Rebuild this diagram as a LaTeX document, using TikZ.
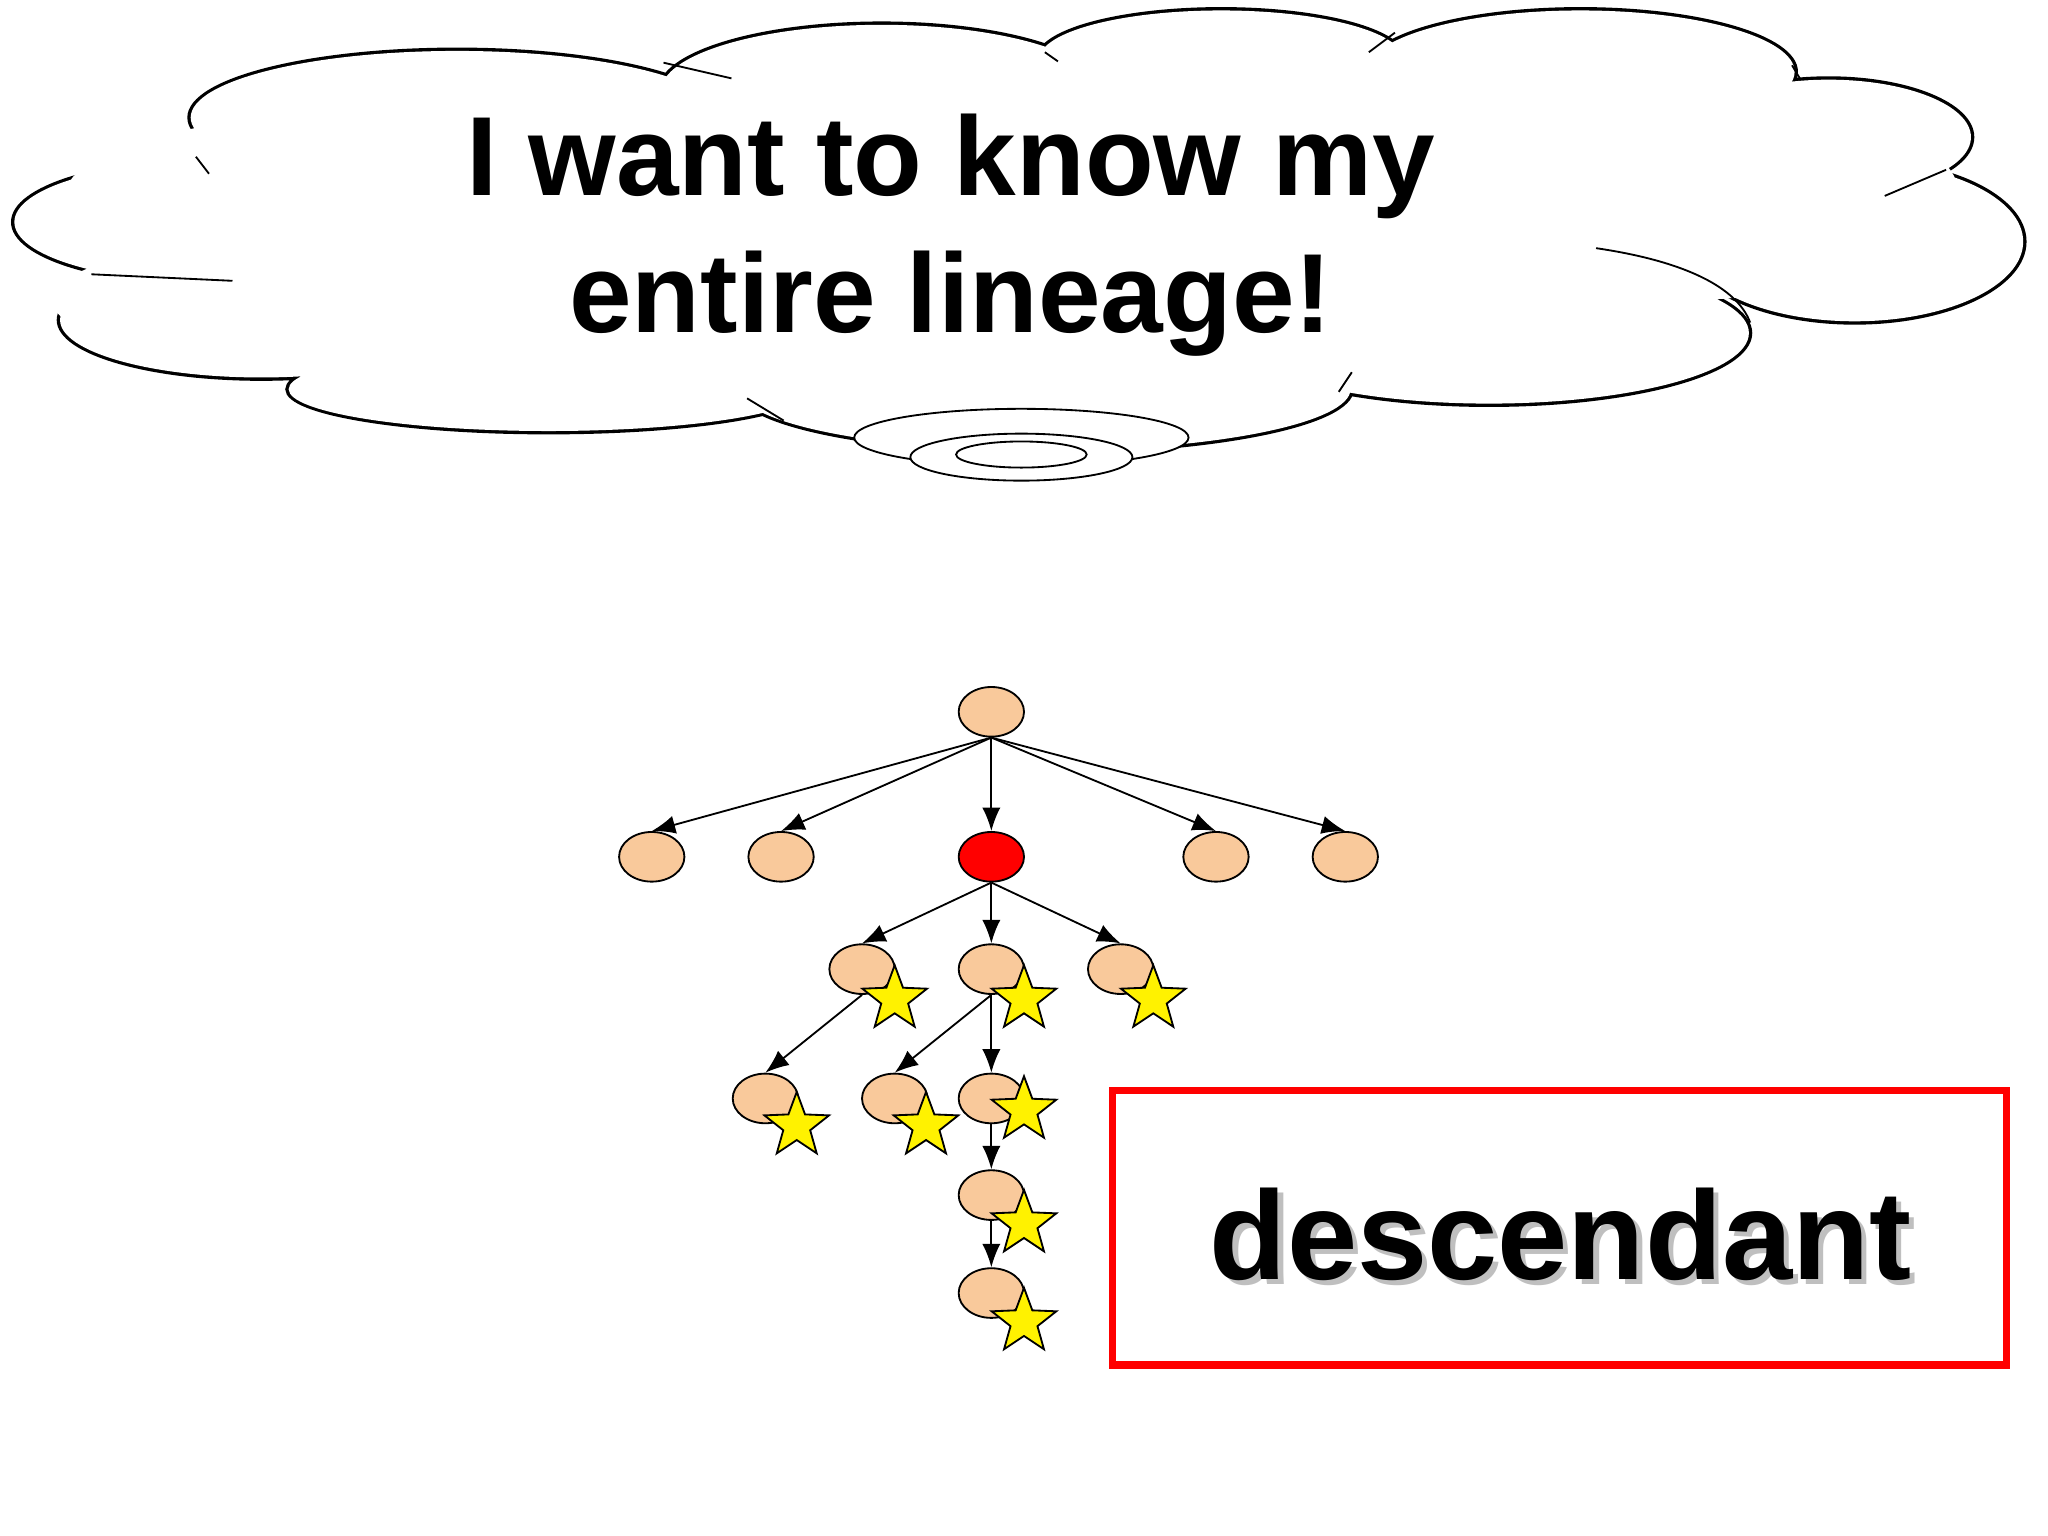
\documentclass[tikz,border=0pt]{standalone}
\usepackage{fontspec}
\setmainfont{Liberation Sans}
\usetikzlibrary{shapes.geometric,arrows.meta}
\definecolor{peach}{HTML}{F9C99B}
\begin{document}
\begin{tikzpicture}[x=0.01cm,y=-0.01cm,
  nd/.style={ellipse,draw,fill=peach,minimum width=0.5cm,minimum height=0.38cm,inner sep=0pt},
  st/.style={star,star points=5,star point ratio=2.4,draw,fill=yellow,minimum size=0.52cm,inner sep=0pt},
  ed/.style={-{Latex[length=1.8mm,width=1.4mm]}}]
\useasboundingbox (0,0) rectangle (1568,1176);
% cloud
\draw[line width=0.9pt] (160,170) ellipse [x radius=150,y radius=47]
 (200,245) ellipse [x radius=155,y radius=45]
 (350,90) ellipse [x radius=205,y radius=52]
 (675,70) ellipse [x radius=170,y radius=52]
 (935,45) ellipse [x radius=140,y radius=38]
 (1210,55) ellipse [x radius=165,y radius=48]
 (1400,105) ellipse [x radius=110,y radius=45]
 (1420,185) ellipse [x radius=130,y radius=62]
 (1140,255) ellipse [x radius=200,y radius=55]
 (800,298) ellipse [x radius=235,y radius=48]
 (420,298) ellipse [x radius=200,y radius=33];
\fill[white] (160,170) ellipse [x radius=149,y radius=46]
 (200,245) ellipse [x radius=154,y radius=44]
 (350,90) ellipse [x radius=204,y radius=51]
 (675,70) ellipse [x radius=169,y radius=51]
 (935,45) ellipse [x radius=139,y radius=37]
 (1210,55) ellipse [x radius=164,y radius=47]
 (1400,105) ellipse [x radius=109,y radius=44]
 (1420,185) ellipse [x radius=129,y radius=61]
 (1140,255) ellipse [x radius=199,y radius=54]
 (800,298) ellipse [x radius=234,y radius=47]
 (420,298) ellipse [x radius=199,y radius=32]
 (760,180) ellipse [x radius=560,y radius=115]
 (1280,150) ellipse [x radius=220,y radius=80]
 (1100,100) ellipse [x radius=220,y radius=60]
 (300,230) ellipse [x radius=260,y radius=55]
 (250,150) ellipse [x radius=200,y radius=60];
\draw (508,48) -- (560,60) (150,120) -- (160,133) (70,210) -- (178,215) (1443,150) -- (1490,130)
 (1222,190) .. controls (1290,200) and (1330,220) .. (1340,247) (1035,285) -- (1025,300)
 (572,305) -- (600,322) (800,40) -- (810,47) (1048,40) -- (1068,25) (1372,50) -- (1378,60);
\draw[fill=white] (782,335) ellipse [x radius=128,y radius=22];
\draw[fill=white] (782,350) ellipse [x radius=85,y radius=18];
\draw (782,348) ellipse [x radius=50,y radius=10];
\node[align=center,font=\bfseries\fontsize{24.5}{30}\selectfont] (t) at (728,180) {I want to know my\\entire lineage!};
% tree
\node[nd] (r) at (759,545) {};
\node[nd] (a1) at (499,656) {};
\node[nd] (a2) at (598,656) {};
\node[nd,fill=red] (a3) at (759,656) {};
\node[nd] (a4) at (931,656) {};
\node[nd] (a5) at (1030,656) {};
\node[nd] (b1) at (660,742) {};
\node[nd] (b2) at (759,742) {};
\node[nd] (b3) at (858,742) {};
\node[nd] (c1) at (586,841) {};
\node[nd] (c2) at (685,841) {};
\node[nd] (c3) at (759,841) {};
\node[nd] (d1) at (759,915) {};
\node[nd] (e1) at (759,990) {};
\foreach \t in {a1,a2,a3,a4,a5} \draw[ed] (r.south) -- (\t.north);
\foreach \t in {b1,b2,b3} \draw[ed] (a3.south) -- (\t.north);
\draw[ed] (b1.south) -- (c1.north);
\draw[ed] (b2.south) -- (c2.north);
\draw[ed] (b2.south) -- (c3.north);
\draw[ed] (c3.south) -- (d1.north);
\draw[ed] (d1.south) -- (e1.north);
\foreach \n/\p in {s1/{685,765},s2/{784,765},s3/{883,765},s4/{610,862},s5/{709,862},s6/{784,850},s7/{784,937},s8/{784,1012}}
  \node[st] (\n) at (\p) {};
% box
\node[draw=red,line width=0.06cm,minimum width=6.84cm,minimum height=2.1cm] (box) at (1194,940) {};
\node[font=\bfseries\fontsize{27.5}{34}\selectfont,text=gray!50] (shd) at (1199,949) {descendant};
\node[font=\bfseries\fontsize{27.5}{34}\selectfont] (lbl) at (1195,945) {descendant};
\end{tikzpicture}
\end{document}
